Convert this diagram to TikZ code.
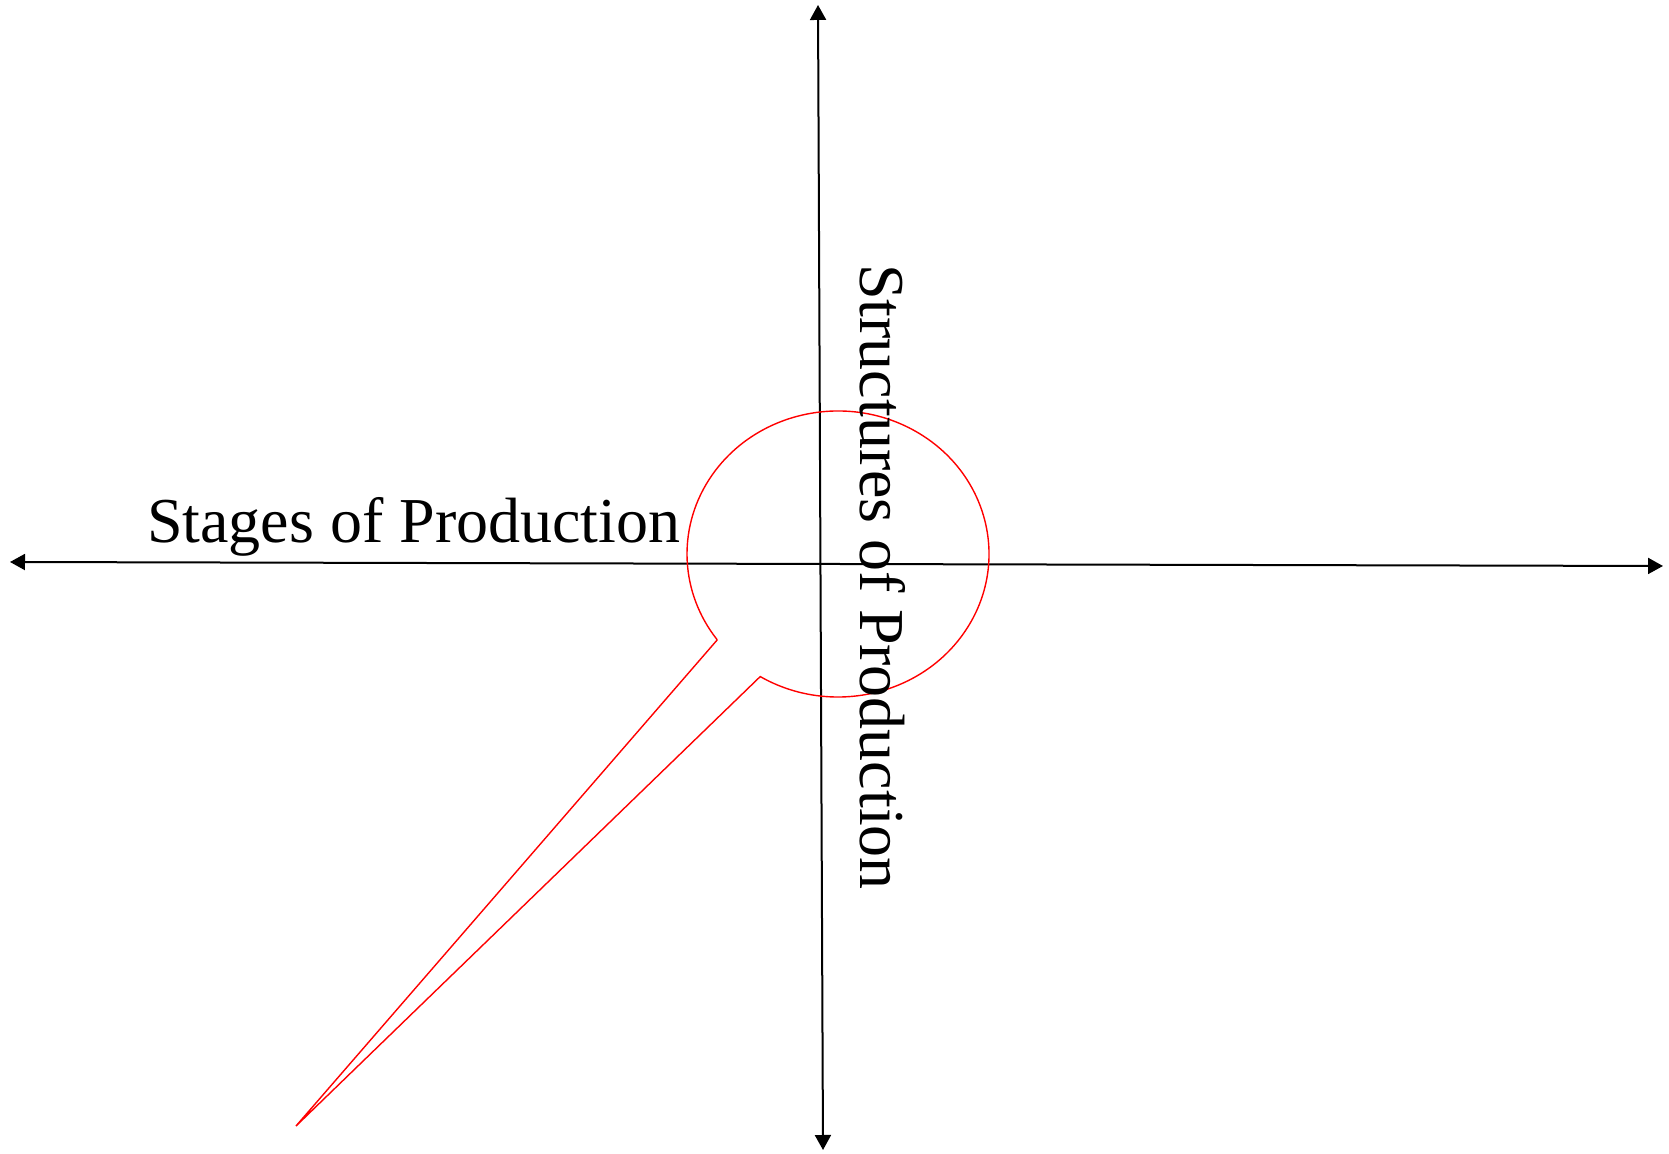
\documentclass[tikz,border=0pt]{standalone}
\usepackage{fontspec}
\setmainfont{Liberation Serif}
\usetikzlibrary{arrows.meta,calc}
\tikzset{
  axis/.style={line width=2pt, {Triangle[length=15pt,width=16pt]}-{Triangle[length=15pt,width=16pt]}},
  callout/.style={draw=red, line width=1.4pt, line join=miter},
  lbl/.style={inner sep=0pt, font=\fontsize{64}{77}\selectfont}
}
\begin{document}
\begin{tikzpicture}[x=1pt,y=1pt]
\useasboundingbox (0,0) rectangle (1669,1153);
% axes
\coordinate (hl) at (10,591);
\coordinate (hr) at (1663,587);
\coordinate (vt) at (818,1148);
\coordinate (vb) at (823,3);
\draw[axis] (hl) -- (hr);
\draw[axis] (vt) -- (vb);
% callout ellipse
\coordinate (c) at (838,599);
\coordinate (a) at ($(c)+(216.9:151 and 143)$);
\coordinate (b) at ($(c)+(239:151 and 143)$);
\coordinate (t) at (296,27);
\draw[callout] (a) -- (t) -- (b) arc[start angle=239, end angle=576.9, x radius=151, y radius=143];
% labels
\node[lbl, anchor=base west] (stages) at (147,610) {Stages of Production};
\node[lbl, anchor=base west, rotate=-90] (structs) at (860,889) {Structures of Production};
\end{tikzpicture}
\end{document}
